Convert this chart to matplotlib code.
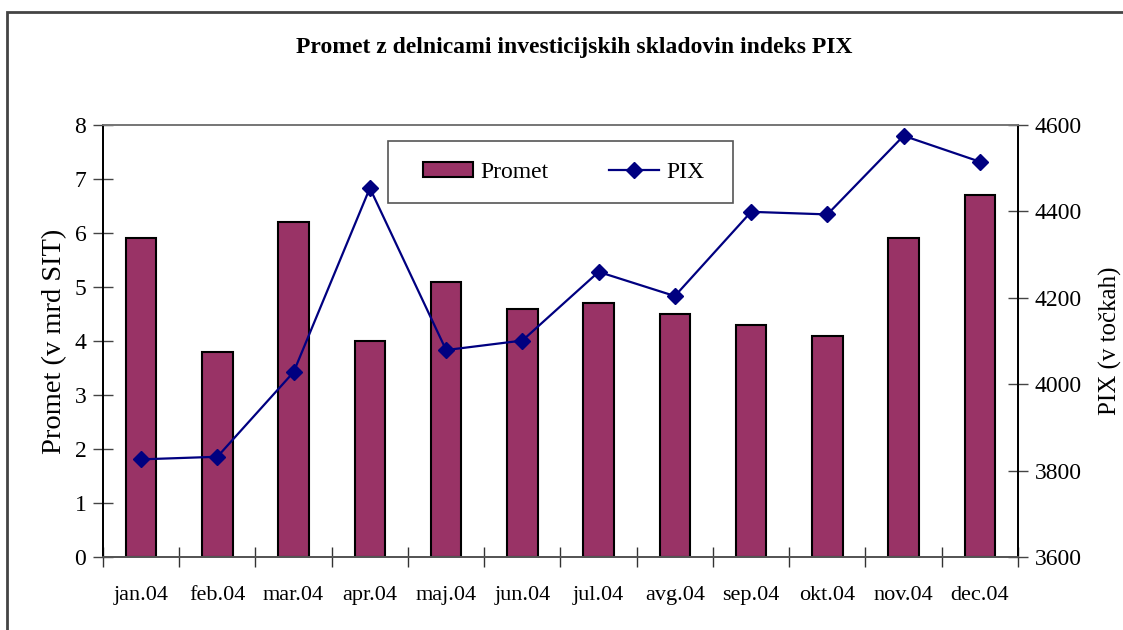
import matplotlib
matplotlib.use("Agg")
import matplotlib.pyplot as plt
import numpy as np
from matplotlib.patches import Rectangle

# data
months = ["jan.04", "feb.04", "mar.04", "apr.04", "maj.04", "jun.04",
          "jul.04", "avg.04", "sep.04", "okt.04", "nov.04", "dec.04"]
promet = [5.9, 3.8, 6.2, 4.0, 5.1, 4.6, 4.7, 4.5, 4.3, 4.1, 5.9, 6.7]
pix = [3826, 3832, 4028, 4454, 4079, 4101, 4260, 4204, 4399, 4393, 4575, 4515]

plt.rcParams["font.family"] = ["Liberation Serif", "DejaVu Serif"]

BAR_COLOR = "#993366"
LINE_COLOR = "#000080"

fig = plt.figure(figsize=(11.23, 6.30), dpi=100)
ax = fig.add_axes([0.0917, 0.1159, 0.8148, 0.6857])
ax2 = ax.twinx()

x = np.arange(len(months))
bars = ax.bar(x, promet, width=0.4, color=BAR_COLOR, edgecolor="black",
              linewidth=1.5, label="Promet", zorder=2)
line, = ax2.plot(x, pix, color=LINE_COLOR, linewidth=1.6, marker="D",
                 markersize=8, label="PIX", zorder=3)

ax.set_xlim(-0.5, len(months) - 0.5)
ax.set_ylim(0, 8)
ax2.set_ylim(3600, 4600)
ax.set_yticks(range(0, 9))
ax2.set_yticks(range(3600, 4601, 200))

# category labels at centres, tick marks at boundaries
ax.set_xticks(x)
ax.set_xticklabels(months)
ax.set_xticks(np.arange(-0.5, len(months), 1.0), minor=True)
ax.tick_params(axis="x", which="major", length=0, pad=21, labelsize=16)
ax.tick_params(axis="x", which="minor", direction="inout", length=14, width=1, color="#333333")
ax.tick_params(axis="y", direction="inout", length=14, width=1, labelsize=17, pad=5, color="#444444")
ax2.tick_params(axis="y", direction="inout", length=14, width=1, labelsize=17, pad=5, color="#444444")

for a in (ax, ax2):
    a.spines["top"].set_color("#777777")
    a.spines["bottom"].set_color("#555555")
    a.spines["left"].set_color("black")
    a.spines["right"].set_color("black")
    for s in a.spines.values():
        s.set_linewidth(1.3)

ax.set_ylabel("Promet (v mrd SIT)", fontsize=20.5, labelpad=5)
ax2.set_ylabel("PIX (v točkah)", fontsize=18, labelpad=12)

fig.text(0.511, 0.924, "Promet z delnicami investicijskih skladovin indeks PIX",
         ha="center", va="center", fontsize=17, fontweight="bold")

leg = ax2.legend([bars, line], ["Promet", "PIX"], ncol=2,
                 bbox_to_anchor=(0.3497, 0.861, 0.3082, 0.06), mode="expand",
                 loc="center", fontsize=17, frameon=False,
                 borderaxespad=0, borderpad=0, handlelength=2.1,
                 handleheight=0.6, handletextpad=0.35, columnspacing=2.7)

# legend frame
ax2.add_patch(Rectangle((0.311, 0.819), 0.378, 0.144, transform=ax2.transAxes,
                        fill=False, edgecolor="#555555", linewidth=1.2,
                        zorder=4))

# outer chart border (only left and top edges are inside the picture)
fig.patches.append(Rectangle((7 / 1123, -0.05), 1.2, 1.05 - 12 / 630,
                             transform=fig.transFigure, fill=False,
                             edgecolor="#444444", linewidth=2))

fig.savefig("out.png", dpi=100)
